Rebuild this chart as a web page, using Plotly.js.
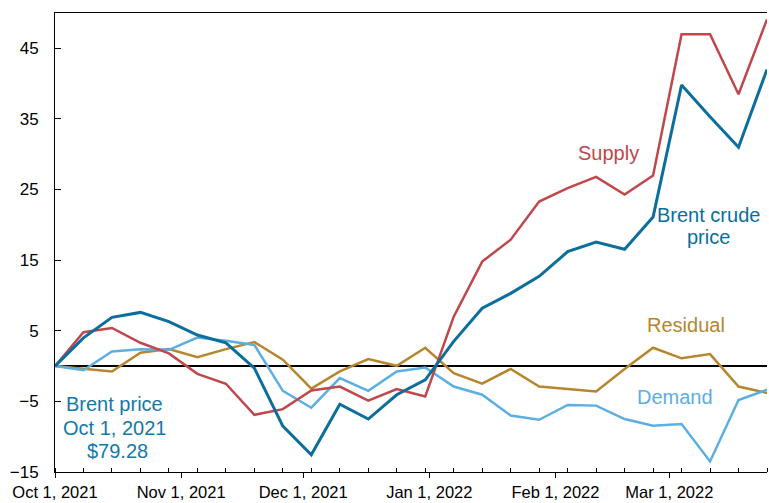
<!DOCTYPE html>
<html>
<head>
<meta charset="utf-8">
<script src="https://cdn.plot.ly/plotly-3.0.1.min.js"></script>
<style>html,body{margin:0;padding:0;background:#fff;}#chart{width:769px;height:503px;}</style>
</head>
<body>
<div id="chart"></div>
<script>
const dates = ['2021-10-01','2021-10-08','2021-10-15','2021-10-22','2021-10-29','2021-11-05','2021-11-12','2021-11-19','2021-11-26','2021-12-03','2021-12-10','2021-12-17','2021-12-24','2021-12-31','2022-01-07','2022-01-14','2022-01-21','2022-01-28','2022-02-04','2022-02-11','2022-02-18','2022-02-25','2022-03-04','2022-03-11','2022-03-18','2022-03-25'];
const brent    = [0, 4.0, 6.9, 7.6, 6.3, 4.4, 3.3, -0.3, -8.5, -12.55, -5.4, -7.5, -4.06, -1.94, 3.5, 8.2, 10.3, 12.7, 16.2, 17.55, 16.55, 21.1, 39.8, 35.3, 31.0, 42.0];
const supply   = [0, 4.8, 5.4, 3.3, 1.8, -1.1, -2.5, -6.9, -6.1, -3.45, -2.9, -4.9, -3.26, -4.3, 7.0, 14.8, 17.9, 23.3, 25.2, 26.8, 24.3, 27.0, 47.0, 47.0, 38.5, 49.1];
const demand   = [0, -0.6, 2.07, 2.4, 2.3, 4.05, 3.6, 3.0, -3.5, -5.9, -1.7, -3.5, -0.76, -0.2, -2.9, -4.06, -7.0, -7.6, -5.5, -5.6, -7.5, -8.45, -8.2, -13.5, -4.8, -3.35];
const residual = [0, -0.4, -0.76, 1.9, 2.4, 1.27, 2.4, 3.4, 0.9, -3.2, -0.76, 1.0, 0.04, 2.6, -1.0, -2.5, -0.4, -2.9, -3.3, -3.6, -0.4, 2.6, 1.1, 1.7, -2.9, -3.8];
const monthTicks = ['2021-10-01','2021-11-01','2021-12-01','2022-01-01','2022-02-01','2022-03-01'];
const monthLabels = ['Oct 1, 2021','Nov 1, 2021','Dec 1, 2021','Jan 1, 2022','Feb 1, 2022','Mar 1, 2022'];
const yTicks = [-15, -5, 5, 15, 25, 35, 45];

const C = {brent:'#0b6e9c', supply:'#c0474b', demand:'#5caee3', residual:'#b5862e'};
const FONT = '"Liberation Sans", Arial, sans-serif';

const traces = [
  {x:dates, y:residual, mode:'lines', line:{color:C.residual, width:2.5}, hoverinfo:'skip'},
  {x:dates, y:demand, mode:'lines', line:{color:C.demand, width:2.5}, hoverinfo:'skip'},
  {x:dates, y:supply, mode:'lines', line:{color:C.supply, width:2.5}, hoverinfo:'skip'},
  {x:dates, y:brent, mode:'lines', line:{color:C.brent, width:3}, hoverinfo:'skip'}
];

function ann(text, x, y, color){
  return {text:text, x:x, y:y, xref:'paper', yref:'paper', xanchor:'center', yanchor:'middle',
          showarrow:false, font:{family:FONT, size:20, color:color}};
}

const layout = {
  width:769, height:503,
  margin:{l:55, r:2, t:13, b:31},
  paper_bgcolor:'#fff', plot_bgcolor:'#fff',
  showlegend:false,
  font:{family:FONT, size:17, color:'#000'},
  xaxis:{
    type:'date', range:['2021-10-01','2022-03-25'],
    tickvals:monthTicks, ticktext:monthLabels,
    ticks:'outside', ticklen:5, tickwidth:1, tickcolor:'#000',
    minor:{tick0:'2021-10-01', dtick:7*86400000, ticks:'inside', ticklen:4, tickwidth:1, tickcolor:'#000'},
    showgrid:false, zeroline:false,
    showline:true, linecolor:'#000', linewidth:1, mirror:true,
    tickfont:{family:FONT, size:16.5, color:'#000'},
    ticklabelstandoff:0
  },
  yaxis:{
    range:[-15, 50], tickvals:yTicks,
    ticks:'inside', ticklen:6, tickwidth:1, tickcolor:'#000',
    showgrid:false,
    zeroline:true, zerolinecolor:'#000', zerolinewidth:1.8,
    showline:true, linecolor:'#000', linewidth:1,
    tickfont:{family:FONT, size:17, color:'#000'},
    ticklabelstandoff:12
  },
  annotations:[
    ann('Supply', 0.7767, 0.6947, C.supply),
    ann('Brent crude', 0.9185, 0.5605, C.brent),
    ann('price', 0.9185, 0.5115, C.brent),
    ann('Residual', 0.886, 0.3205, C.residual),
    ann('Demand', 0.8708, 0.1628, C.demand),
    ann('Brent price', 0.0836, 0.1486, '#1478a8'),
    ann('Oct 1, 2021', 0.0836, 0.0964, '#1478a8'),
    ann('$79.28', 0.0878, 0.0463, '#1478a8')
  ]
};

Plotly.newPlot('chart', traces, layout, {staticPlot:true, displayModeBar:false});
</script>
</body>
</html>
